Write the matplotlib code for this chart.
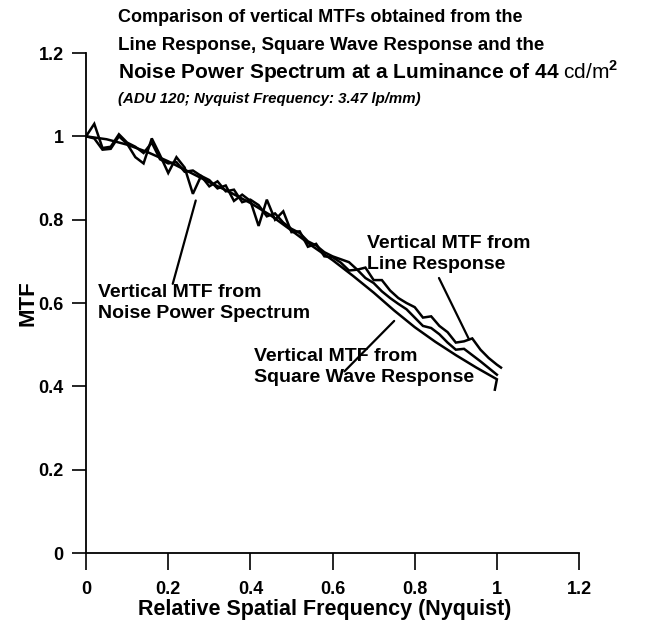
from matplotlib import pyplot as plt
from matplotlib import font_manager
import numpy as np

plt.rcParams["font.family"] = ["Liberation Sans", "DejaVu Sans"]
plt.rcParams["mathtext.fontset"] = "custom"
plt.rcParams["mathtext.rm"] = "Liberation Sans"
plt.rcParams["mathtext.bf"] = "Liberation Sans:bold"

# square wave response (smooth)
sw_x = [0.0, 0.05, 0.1, 0.15, 0.2, 0.25, 0.3, 0.35, 0.4, 0.45, 0.5, 0.55,
        0.6, 0.65, 0.7, 0.75, 0.8, 0.85, 0.9, 0.95, 1.0, 0.995]
sw_y = [1.000, 0.993, 0.980, 0.962, 0.940, 0.915, 0.890, 0.866, 0.840, 0.810,
        0.774, 0.737, 0.703, 0.665, 0.625, 0.582, 0.542, 0.507, 0.475, 0.445,
        0.417, 0.392]

# line response and noise power spectrum (noisy)
lr_x = [0.0, 0.02, 0.04, 0.06, 0.08, 0.1, 0.12, 0.14, 0.16, 0.18, 0.2, 0.22,
        0.24, 0.26, 0.28, 0.3, 0.32, 0.34, 0.36, 0.38, 0.4, 0.42, 0.44, 0.46,
        0.48, 0.5, 0.52, 0.54, 0.56, 0.58, 0.6, 0.62, 0.64, 0.66, 0.68, 0.7,
        0.72, 0.74, 0.76, 0.78, 0.8, 0.82, 0.84, 0.86, 0.88, 0.9, 0.92, 0.94,
        0.96, 0.98, 1.0, 1.01]
lr_y = [1.000, 1.030, 0.972, 0.975, 1.005, 0.985, 0.975, 0.960, 0.985, 0.945,
        0.935, 0.938, 0.915, 0.918, 0.905, 0.880, 0.892, 0.868, 0.872, 0.842,
        0.848, 0.835, 0.808, 0.815, 0.793, 0.778, 0.768, 0.748, 0.738, 0.722,
        0.712, 0.705, 0.698, 0.680, 0.685, 0.655, 0.655, 0.630, 0.612, 0.600,
        0.590, 0.565, 0.568, 0.545, 0.530, 0.505, 0.508, 0.515, 0.488, 0.468,
        0.452, 0.445]

nps_x = [0.0, 0.02, 0.04, 0.06, 0.08, 0.1, 0.12, 0.14, 0.16, 0.18, 0.2, 0.22,
         0.24, 0.26, 0.28, 0.3, 0.32, 0.34, 0.36, 0.38, 0.4, 0.42, 0.44, 0.46,
         0.48, 0.5, 0.52, 0.54, 0.56, 0.58, 0.6, 0.62, 0.64, 0.66, 0.68, 0.7,
         0.72, 0.74, 0.76, 0.78, 0.8, 0.82, 0.84, 0.86, 0.88, 0.9, 0.92, 0.94,
         0.96, 0.98, 1.0]
nps_y = [1.000, 0.995, 0.968, 0.970, 1.000, 0.982, 0.950, 0.935, 0.995, 0.955,
         0.912, 0.950, 0.925, 0.862, 0.905, 0.895, 0.875, 0.882, 0.845, 0.860,
         0.845, 0.785, 0.848, 0.800, 0.820, 0.770, 0.772, 0.735, 0.742, 0.712,
         0.710, 0.697, 0.678, 0.680, 0.660, 0.648, 0.628, 0.612, 0.598, 0.585,
         0.565, 0.545, 0.540, 0.525, 0.505, 0.488, 0.490, 0.475, 0.460, 0.444,
         0.428]

ticks = [0, 0.2, 0.4, 0.6, 0.8, 1, 1.2]
tick_labels = ["0", "0.2", "0.4", "0.6", "0.8", "1", "1.2"]

# narrow face for the italic subtitle if it is there
try:
    font_manager.findfont("Liberation Sans Narrow", fallback_to_default=False)
    sub_family, sub_size = ["Liberation Sans Narrow", "DejaVu Sans"], 12.8
except ValueError:
    sub_family, sub_size = ["Liberation Sans", "DejaVu Sans"], 10.8

fig = plt.figure(figsize=(6.47, 6.31), dpi=100)
ax = fig.add_axes([0.133, 0.1236, 0.762, 0.7924])

for xs, ys in [(sw_x, sw_y), (lr_x, lr_y), (nps_x, nps_y)]:
    ax.plot(xs, ys, color="black", lw=1.8, solid_joinstyle="miter")

ax.set_xlim(0, 1.2)
ax.set_ylim(0, 1.2)
ax.set_xticks(ticks)
ax.set_xticklabels(tick_labels, fontsize=13, fontweight="bold")
ax.set_yticks(ticks)
ax.set_yticklabels(tick_labels, fontsize=13, fontweight="bold")
ax.tick_params(axis="x", direction="out", length=12, width=1.2, pad=8)
ax.tick_params(axis="y", direction="out", length=10, width=1.2, pad=6)
for s in ["top", "right"]:
    ax.spines[s].set_visible(False)
for s in ["left", "bottom"]:
    ax.spines[s].set_linewidth(1.3)

ax.set_xlabel("Relative Spatial Frequency (Nyquist)", fontsize=15.5,
              fontweight="bold", va="center")
ax.xaxis.set_label_coords(0.485, -0.112)
ax.set_ylabel("MTF", fontsize=16, fontweight="bold", labelpad=0)

# annotations with leader lines
txt_kw = dict(fontsize=14, fontweight="bold", ha="left", va="center",
              linespacing=1.35)
lead = dict(arrowstyle="-", color="black", lw=1.6, shrinkA=0, shrinkB=0)

ax.text(0.029, 0.60, "Vertical MTF from\nNoise Power Spectrum", **txt_kw)
ax.annotate("", xy=(0.267, 0.846), xytext=(0.211, 0.646), arrowprops=lead)

ax.text(0.684, 0.718, "Vertical MTF from\nLine Response", **txt_kw)
ax.annotate("", xy=(0.932, 0.513), xytext=(0.859, 0.660), arrowprops=lead)

ax.text(0.408, 0.446, "Vertical MTF from\nSquare Wave Response", **txt_kw)
ax.annotate("", xy=(0.75, 0.557), xytext=(0.629, 0.436), arrowprops=lead)

# title block
W, H = 647, 631
title_lines = [
    ("Comparison of vertical MTFs obtained from the", 18, 13),
    ("Line Response, Square Wave Response and the", 45, 13.5),
    (r"Noise Power Spectrum at a Luminance of 44 $\mathrm{cd/m}^{\mathbf{2}}$",
     72, 15),
]
for txt, py, fs in title_lines:
    fig.text(118 / W, 1 - py / H, txt, fontsize=fs, fontweight="bold",
             ha="left", va="center")
fig.text(118 / W, 1 - 99 / H, "(ADU 120; Nyquist Frequency: 3.47 lp/mm)",
         family=sub_family, fontsize=sub_size, fontweight="bold",
         style="italic", ha="left", va="center")

plt.savefig("out.png", dpi=100)
